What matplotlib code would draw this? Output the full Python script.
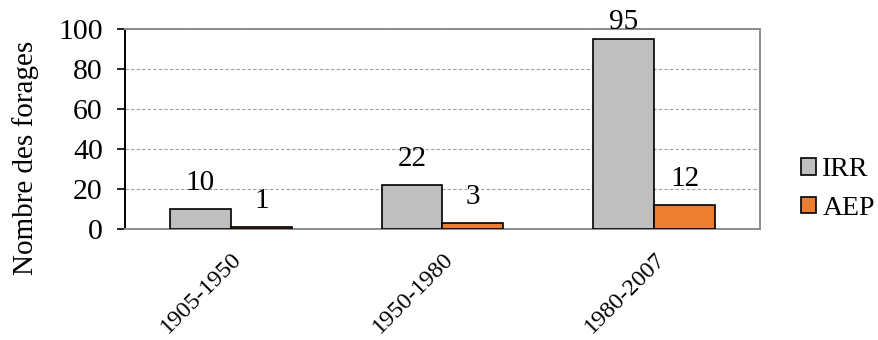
import numpy as np
import matplotlib
matplotlib.use("Agg")
import matplotlib.pyplot as plt
from matplotlib.patches import Patch

periods = ["1905-1950", "1950-1980", "1980-2007"]
irr = [10, 22, 95]
aep = [1, 3, 12]

plt.rcParams.update({"font.family": "Liberation Serif"})
C_IRR = "#bfbfbf"; C_AEP = "#ed7d31"

fig = plt.figure(figsize=(8.79, 3.40), dpi=100)
ax = fig.add_axes([125 / 879, 1 - 229 / 340, 635 / 879, 200 / 340])

x = np.arange(len(periods))
w = 0.288
b1 = ax.bar(x - w / 2, irr, w, color=C_IRR, edgecolor="black", lw=1.2, zorder=3)
b2 = ax.bar(x + w / 2, aep, w, color=C_AEP, edgecolor="black", lw=1.2, zorder=3)
for bars, vals in ((b1, irr), (b2, aep)):
    for r, v in zip(bars, vals):
        # labels sit above the bar; the tallest one is pushed down to stay on the canvas
        off = 9 if v < 90 else 3
        ax.annotate(str(v), (r.get_x() + r.get_width() / 2, v), xytext=(0, off),
                    textcoords="offset points", ha="center", va="bottom",
                    fontsize=21, annotation_clip=False)

ax.set_xlim(-0.5, 2.5)
ax.set_ylim(0, 100)
ax.set_yticks(range(0, 101, 20))
ax.tick_params(axis="y", labelsize=21.5, length=6, width=1.2, direction="out", pad=10)
ax.tick_params(axis="x", length=0, pad=14)
ax.set_xticks(x)
ax.set_xticklabels(periods, rotation=45, ha="right", rotation_mode="anchor",
                   fontsize=17.5)
ax.set_ylabel("Nombre des forages", fontsize=21)
ax.yaxis.set_label_coords(-0.135, 0.355)
ax.yaxis.grid(True, ls=(0, (3, 2)), color="#a0a0a0", lw=0.8, zorder=0)
for s in ("top", "right", "bottom"):
    ax.spines[s].set_color("#8c8c8c"); ax.spines[s].set_linewidth(1.4)
ax.spines["left"].set_color("black"); ax.spines["left"].set_linewidth(1.4)

handles = [Patch(facecolor=C_IRR, edgecolor="black", lw=1.2),
           Patch(facecolor=C_AEP, edgecolor="black", lw=1.2)]
fig.legend(handles, ["IRR", "AEP"], loc="center left",
           bbox_to_anchor=(801 / 879, 1 - 189 / 340), frameon=False,
           borderpad=0, borderaxespad=0, fontsize=20, handlelength=0.55,
           handleheight=0.55, handletextpad=0.22, labelspacing=0.5)

fig.savefig("out.png", dpi=100)
